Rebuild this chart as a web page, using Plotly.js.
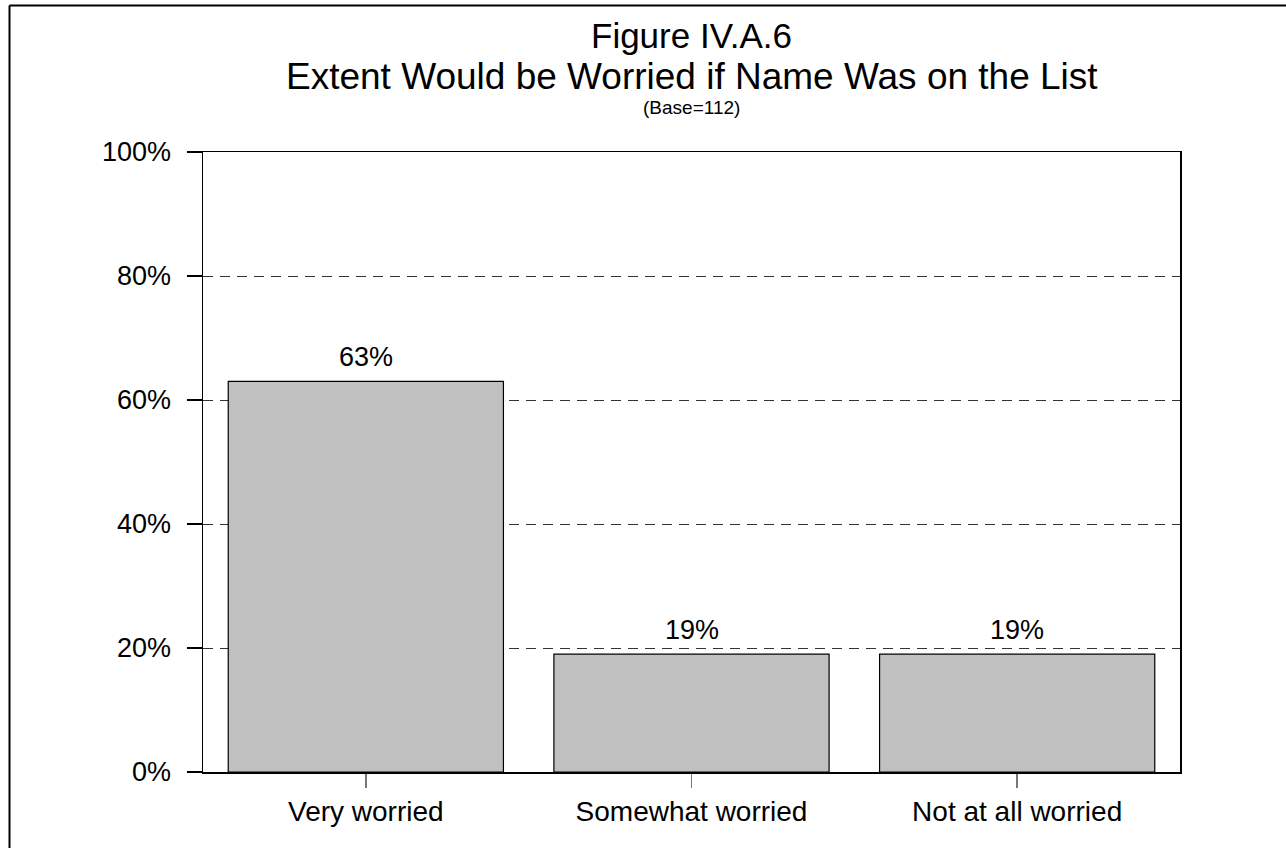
<!DOCTYPE html>
<html>
<head>
<meta charset="utf-8">
<script src="https://cdn.plot.ly/plotly-3.0.1.min.js"></script>
<style>
  html, body { margin: 0; padding: 0; background: #fff; }
  #chart { width: 1286px; height: 848px; }
</style>
</head>
<body>
<div id="chart"></div>
<script>
const categories = ["Very worried", "Somewhat worried", "Not at all worried"];
const values = [63, 19, 19];
const yTickVals = [0, 20, 40, 60, 80, 100];
const yTickText = ["0%", "20%", "40%", "60%", "80%", "100%"];
const titleLines = ["Figure IV.A.6", "Extent Would be Worried if Name Was on the List", "(Base=112)"];

const FONT = "Liberation Sans, Arial, sans-serif";

const W = 1286, H = 848;
const L = 203, R = 1180, T = 152, B = 772;
const px2x = p => (p - L) / (R - L);
const py2y = p => (B - p) / (B - T);

const trace = {
  type: "bar",
  x: categories,
  y: values,
  width: 0.845,
  marker: { color: "#c0c0c0", line: { color: "#000", width: 1.2 } },
  hoverinfo: "skip",
  cliponaxis: false
};

const annotations = [];
values.forEach((v, i) => {
  annotations.push({
    x: categories[i], y: v, xref: "x", yref: "y",
    text: v + "%", showarrow: false,
    yanchor: "bottom", yshift: 7,
    font: { family: FONT, size: 27, color: "#000" }
  });
});
const titleYs = [35, 76, 107];
const titleSizes = [35, 37, 19];
titleLines.forEach((t, i) => {
  annotations.push({
    x: 0.5, xref: "paper", y: py2y(titleYs[i]), yref: "paper",
    text: t, showarrow: false, xanchor: "center", yanchor: "middle",
    font: { family: FONT, size: titleSizes[i], color: "#000" }
  });
});

const layout = {
  width: W, height: H,
  margin: { l: L, r: W - R, t: T, b: H - B, pad: 0 },
  paper_bgcolor: "#fff",
  plot_bgcolor: "#fff",
  showlegend: false,
  font: { family: FONT, color: "#000" },
  xaxis: {
    type: "category",
    range: [-0.5, 2.5],
    showline: true, linecolor: "#000", linewidth: 1.5, mirror: true,
    ticks: "outside", ticklen: 14, tickcolor: "#777", tickwidth: 1.5,
    showgrid: false, zeroline: false,
    tickfont: { family: FONT, size: 28, color: "#000" },
    fixedrange: true
  },
  yaxis: {
    range: [0, 100],
    tickvals: yTickVals, ticktext: yTickText,
    showline: true, linecolor: "#000", linewidth: 1.5, mirror: true,
    ticks: "outside", ticklen: 15, tickcolor: "#000", tickwidth: 1.2,
    ticklabelstandoff: 10,
    showgrid: true, gridcolor: "#333", gridwidth: 1, griddash: "10px,7px",
    zeroline: false,
    tickfont: { family: FONT, size: 27, color: "#000" },
    fixedrange: true
  },
  annotations: annotations,
  shapes: [
    { type: "line", xref: "paper", yref: "paper", x0: px2x(9.5), x1: px2x(1300), y0: py2y(5.5), y1: py2y(5.5), line: { color: "#000", width: 2 } },
    { type: "line", xref: "paper", yref: "paper", x0: px2x(9.5), x1: px2x(9.5), y0: py2y(5.5), y1: py2y(900), line: { color: "#000", width: 2 } }
  ]
};

Plotly.newPlot("chart", [trace], layout, { displayModeBar: false, staticPlot: true });
</script>
</body>
</html>
